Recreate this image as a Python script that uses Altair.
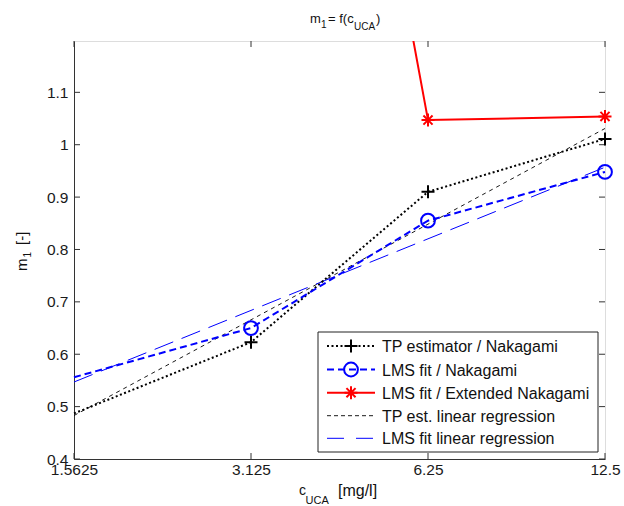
import altair as alt
import pandas as pd

# Contrast agent concentration [mg/l] and the fitted shape parameter m1
conc = [1.5625, 3.125, 6.25, 12.5]
tp_nakagami = [0.487, 0.623, 0.910, 1.011]
lms_nakagami = [0.556, 0.650, 0.855, 0.948]
conc_ext = [3.125, 6.25, 12.5]
lms_ext_nakagami = [2.88, 1.047, 1.054]
# Linear regressions over log2(concentration), end points
conc_reg = [1.5625, 12.5]
tp_regression = [0.483, 1.031]
lms_regression = [0.547, 0.957]

x_ticks = [1.5625, 3.125, 6.25, 12.5]
y_ticks = [0.4, 0.5, 0.6, 0.7, 0.8, 0.9, 1.0, 1.1]

legend_labels = [
    "TP estimator / Nakagami",
    "LMS fit / Nakagami",
    "LMS fit / Extended Nakagami",
    "TP est. linear regression",
    "LMS fit linear regression",
]

FONT = "Liberation Sans"
AXIS_COLOR = "#333333"
W, H = 531, 418

PLUS = "M-1,0L1,0M0,-1L0,1"
STAR = "M-1,0L1,0M0,-1L0,1M-0.7,-0.7L0.7,0.7M-0.7,0.7L0.7,-0.7"

x_scale = alt.Scale(type="log", base=2, domain=[1.5625, 12.5], nice=False)
y_scale = alt.Scale(domain=[0.4, 1.198], nice=False, zero=False)

x_axis = alt.Axis(values=x_ticks, ticks=False, grid=False, title=None,
                  labelExpr="'' + datum.value", labelFont=FONT, labelFontSize=15.5,
                  labelColor="#1a1a1a", labelPadding=3, labelFlush=False,
                  labelOverlap=False, domainColor=AXIS_COLOR)
y_axis = alt.Axis(values=y_ticks, ticks=False, grid=False, title=None,
                  labelExpr="format(datum.value, '.1~f')", labelFont=FONT,
                  labelFontSize=15.5, labelColor="#1a1a1a", labelPadding=6,
                  labelFlush=False, labelOverlap=False, domainColor=AXIS_COLOR)


def xe():
    return alt.X("c:Q", scale=x_scale, axis=x_axis)


def ye():
    return alt.Y("m:Q", scale=y_scale, axis=y_axis)


def series(xs, ys):
    return pd.DataFrame({"c": xs, "m": ys})


layers = []

# Inward tick marks on all four sides of the box
yt = pd.DataFrame({"m": y_ticks})
xt = pd.DataFrame({"c": x_ticks})
layers.append(alt.Chart(yt).mark_rule(color=AXIS_COLOR).encode(
    y=ye(), x=alt.value(0), x2=alt.value(6)))
layers.append(alt.Chart(yt).mark_rule(color=AXIS_COLOR).encode(
    y=ye(), x=alt.value(W - 6), x2=alt.value(W)))
layers.append(alt.Chart(xt).mark_rule(color=AXIS_COLOR).encode(
    x=xe(), y=alt.value(0), y2=alt.value(6)))
layers.append(alt.Chart(xt).mark_rule(color=AXIS_COLOR).encode(
    x=xe(), y=alt.value(H - 6), y2=alt.value(H)))

# Regression lines
layers.append(alt.Chart(series(conc_reg, tp_regression)).mark_line(
    color="black", strokeWidth=0.9, strokeDash=[4, 4]).encode(x=xe(), y=ye()))
layers.append(alt.Chart(series(conc_reg, lms_regression)).mark_line(
    color="#0000ff", strokeWidth=1, strokeDash=[20, 9]).encode(x=xe(), y=ye()))

# Measured series
layers.append(alt.Chart(series(conc, tp_nakagami)).mark_line(
    color="black", strokeWidth=2, strokeDash=[2, 2.5]).encode(x=xe(), y=ye()))
layers.append(alt.Chart(series(conc[1:], tp_nakagami[1:])).mark_point(
    shape=PLUS, size=169, color="black", strokeWidth=2, filled=False, opacity=1
).encode(x=xe(), y=ye()))

layers.append(alt.Chart(series(conc, lms_nakagami)).mark_line(
    color="#0000ff", strokeWidth=2, strokeDash=[7, 4]).encode(x=xe(), y=ye()))
layers.append(alt.Chart(series(conc[1:], lms_nakagami[1:])).mark_point(
    shape="circle", size=190, color="#0000ff", strokeWidth=2, filled=False, opacity=1
).encode(x=xe(), y=ye()))

layers.append(alt.Chart(series(conc_ext, lms_ext_nakagami)).mark_line(
    color="#ff0000", strokeWidth=2, clip=True).encode(x=xe(), y=ye()))
layers.append(alt.Chart(series(conc_ext[1:], lms_ext_nakagami[1:])).mark_point(
    shape=STAR, size=169, color="#ff0000", strokeWidth=2, filled=False, opacity=1
).encode(x=xe(), y=ye()))


def one():
    return alt.Data(values=[{"k": 0}])


def note(text, x, y, size, angle=0):
    return alt.Chart(one()).mark_text(
        align="left", baseline="alphabetic", font=FONT, fontSize=size,
        angle=angle, color="#111111"
    ).encode(x=alt.value(x), y=alt.value(y), text=alt.value(text))


# Legend box
LX0, LX1, LY0, LY1 = 244, 524, 291, 411
rows = [305, 328.5, 351.7, 374.7, 397.3]
SX0, SX1, SXM, TX = 253, 301, 277, 308
layers.append(alt.Chart(one()).mark_rect(
    fill="white", stroke="#222222", strokeWidth=1).encode(
    x=alt.value(LX0), x2=alt.value(LX1), y=alt.value(LY0), y2=alt.value(LY1)))

legend_styles = [
    dict(color="black", strokeWidth=2, strokeDash=[2, 2.5]),
    dict(color="#0000ff", strokeWidth=2, strokeDash=[7, 4]),
    dict(color="#ff0000", strokeWidth=2),
    dict(color="black", strokeWidth=0.9, strokeDash=[4, 3]),
    dict(color="#0000ff", strokeWidth=1, strokeDash=[17, 12]),
]
legend_markers = [
    dict(shape=PLUS, size=169, color="black"),
    dict(shape="circle", size=190, color="#0000ff"),
    dict(shape=STAR, size=169, color="#ff0000"),
    None,
    None,
]
for label, ry, style, marker in zip(legend_labels, rows, legend_styles, legend_markers):
    layers.append(alt.Chart(one()).mark_rule(**style).encode(
        x=alt.value(SX0), x2=alt.value(SX1), y=alt.value(ry)))
    if marker:
        layers.append(alt.Chart(one()).mark_point(
            filled=False, strokeWidth=2, opacity=1, **marker).encode(
            x=alt.value(SXM), y=alt.value(ry)))
    layers.append(alt.Chart(one()).mark_text(
        align="left", baseline="middle", font=FONT, fontSize=16, color="#111111"
    ).encode(x=alt.value(TX), y=alt.value(ry + 1), text=alt.value(label)))

# Title: m_1 = f(c_UCA)
layers += [
    note("m", 236, -18, 13),
    note("1", 247, -13, 10),
    note("= f(c", 254, -18, 13),
    note("UCA", 280, -11, 10),
    note(")", 302, -18, 13),
]
# x label: c_UCA [mg/l]
layers += [
    note("c", 225, 454, 14),
    note("UCA", 231.5, 462.5, 11),
    note("[mg/l]", 264, 455, 16),
]
# y label: m_1 [-]
layers += [
    note("m", -47, 230, 15, angle=270),
    note("1", -43, 216.5, 10, angle=270),
    note("[-]", -47.5, 204, 15, angle=270),
]

chart = alt.layer(*layers).properties(
    width=W, height=H,
    padding={"left": 74, "top": 41, "right": 624 - 74 - W, "bottom": 506 - 41 - H},
    autosize=alt.AutoSizeParams(type="none"),
).configure_view(stroke=AXIS_COLOR, strokeWidth=1).configure(background="white")

chart.save("out.html", embed_options={"renderer": "svg", "actions": False})
